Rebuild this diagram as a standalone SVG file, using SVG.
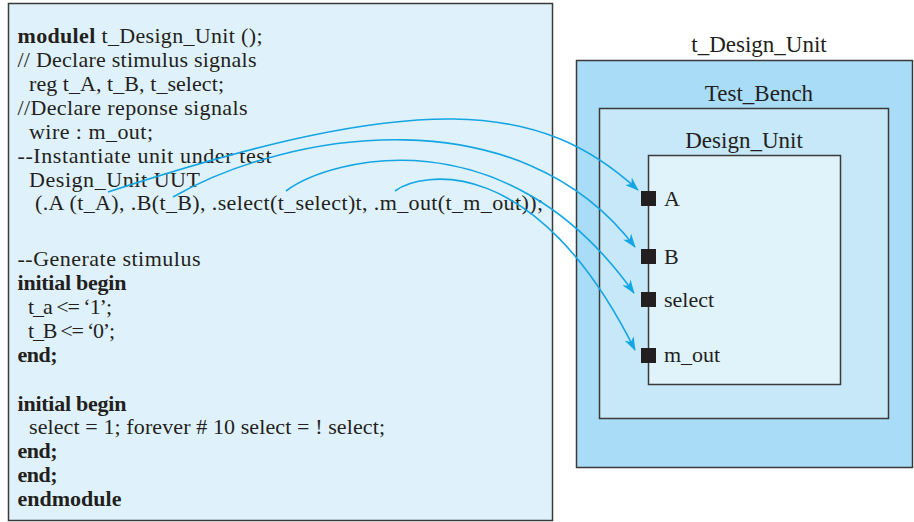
<svg xmlns="http://www.w3.org/2000/svg" width="914" height="522" viewBox="0 0 914 522">
<style>
.code{font-family:"Liberation Serif","Times New Roman",serif;font-size:22px;fill:#231f20}
.b{font-weight:bold}
.lbl{font-family:"Liberation Serif","Times New Roman",serif;font-size:22px;fill:#231f20}
.ttl{font-family:"Liberation Serif","Times New Roman",serif;font-size:23px;fill:#231f20}
.box{stroke:#3a3a3a;stroke-width:1.5}
.wire{fill:none;stroke:#14a5e3;stroke-width:1.6}
.port{fill:#231f20}
</style>
<defs>
<marker id="arr" viewBox="0 0 14 10" refX="13" refY="5" markerWidth="14" markerHeight="10" markerUnits="userSpaceOnUse" orient="auto">
<path d="M0,0 L14,5 L0,10 L4,5 Z" fill="#14a5e3"/>
</marker>
</defs>
<g id="code_panel">
<rect x="8.5" y="3.5" width="544" height="517" fill="#dff2fb" class="box"/>
<text class="code" x="17.5" y="43" textLength="245"><tspan class="b">modulel</tspan> t_Design_Unit ();</text>
<text class="code" x="17.5" y="67" textLength="239">// Declare stimulus signals</text>
<text class="code" x="29" y="91" textLength="195">reg t_A, t_B, t_select;</text>
<text class="code" x="17.5" y="115" textLength="230">//Declare reponse signals</text>
<text class="code" x="29" y="139" textLength="124">wire : m_out;</text>
<text class="code" x="17.5" y="163" textLength="254">--Instantiate unit under test</text>
<text class="code" x="29" y="187" textLength="171">Design_Unit UUT</text>
<text class="code" x="35" y="210" textLength="508">(.A (t_A), .B(t_B), .select(t_select)t, .m_out(t_m_out));</text>
<text class="code" x="17.5" y="266" textLength="183">--Generate stimulus</text>
<text class="code b" x="17.5" y="290" textLength="109">initial begin</text>
<text class="code" x="28" y="314" textLength="84">t_a &lt;= ‘1’;</text>
<text class="code" x="28" y="338" textLength="87">t_B &lt;= ‘0’;</text>
<text class="code b" x="17.5" y="362" textLength="40">end;</text>
<text class="code b" x="17.5" y="411" textLength="109">initial begin</text>
<text class="code" x="29" y="434" textLength="356">select = 1; forever # 10 select = ! select;</text>
<text class="code b" x="17.5" y="458" textLength="40">end;</text>
<text class="code b" x="17.5" y="482" textLength="40">end;</text>
<text class="code b" x="17.5" y="506" textLength="104">endmodule</text>
</g>
<g id="t_Design_Unit">
<rect x="576.5" y="60.5" width="336" height="407" fill="#a9dcf7" class="box"/>
<text class="ttl" x="759" y="52" text-anchor="middle">t_Design_Unit</text>
</g>
<g id="Test_Bench">
<rect x="599.5" y="108.5" width="289" height="310" fill="#c6e8f8" class="box"/>
<text class="ttl" x="759" y="101" text-anchor="middle">Test_Bench</text>
</g>
<g id="Design_Unit">
<rect x="648.5" y="155.5" width="192" height="229" fill="#e0f3fb" class="box"/>
<text class="ttl" x="744" y="148" text-anchor="middle">Design_Unit</text>
</g>
<g id="port_A">
<rect x="641" y="191" width="15" height="15" class="port"/>
<text class="lbl" x="664" y="206">A</text>
</g>
<g id="port_B">
<rect x="641" y="249" width="15" height="15" class="port"/>
<text class="lbl" x="664" y="264">B</text>
</g>
<g id="port_select">
<rect x="641" y="292" width="15" height="15" class="port"/>
<text class="lbl" x="664" y="307">select</text>
</g>
<g id="port_m_out">
<rect x="641" y="348" width="15" height="15" class="port"/>
<text class="lbl" x="664" y="362">m_out</text>
</g>
<g id="connectors">
<path class="wire" d="M108,192 C420,90 540,100 638,190" marker-end="url(#arr)"/>
<path class="wire" d="M173,197 C290,130 520,95 635,247" marker-end="url(#arr)"/>
<path class="wire" d="M286,191 C330,158 505,112 634,293" marker-end="url(#arr)"/>
<path class="wire" d="M395,191 C420,172 535,150 635,350" marker-end="url(#arr)"/>
</g>
</svg>
